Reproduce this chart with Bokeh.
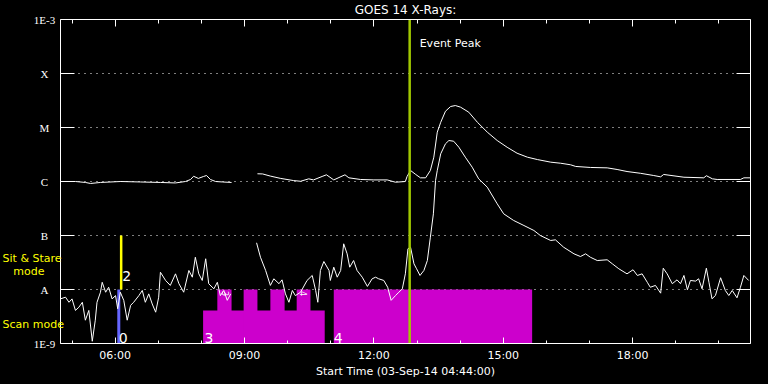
import math
from bokeh.plotting import figure
from bokeh.models import (Range1d, FixedTicker, LogAxis, LinearAxis, Label, LabelSet,
                          ColumnDataSource)
from bokeh.embed import file_html
from bokeh.resources import INLINE

# ---------------- data ----------------
start_h = 4 + 44 / 60          # 04:44
end_h = start_h + 16           # 20:44

# GOES long channel (1-8 A), two segments (data gap ~08:45-09:15)
long_t_1 = [4.73, 5.08, 5.31, 5.43, 5.66, 6.13, 6.59, 7.05, 7.40, 7.63, 7.75, 7.82,
            7.93, 8.05, 8.12, 8.21, 8.33, 8.49, 8.70]
long_f_1 = [1.00e-6, 1.00e-6, 9.6e-7, 9.2e-7, 9.6e-7, 1.00e-6, 9.8e-7, 9.6e-7, 9.4e-7,
            1.00e-6, 1.09e-6, 1.25e-6, 1.14e-6, 1.24e-6, 1.29e-6, 1.09e-6, 1.00e-6,
            9.8e-7, 9.6e-7]
long_t_2 = [9.30, 9.42, 9.60, 9.84, 10.14, 10.30, 10.49, 10.60, 10.80, 10.90, 11.07,
            11.33, 11.42, 11.69, 12.00, 12.31, 12.50, 12.73, 12.77, 12.85, 12.97, 13.08,
            13.20, 13.31, 13.39, 13.47, 13.55, 13.66, 13.78, 13.89, 14.01, 14.20, 14.40,
            14.63, 14.86, 15.09, 15.32, 15.56, 15.79, 16.10, 16.33, 16.56, 16.68, 17.02,
            17.41, 17.64, 17.87, 18.18, 18.49, 18.65, 18.72, 19.19, 19.65, 19.71, 19.85,
            19.96, 20.50, 20.58, 20.73]
long_f_2 = [1.39e-6, 1.38e-6, 1.26e-6, 1.14e-6, 1.04e-6, 1.01e-6, 1.12e-6, 1.07e-6,
            1.24e-6, 1.33e-6, 1.07e-6, 1.33e-6, 1.17e-6, 1.09e-6, 1.07e-6, 1.07e-6,
            9.7e-7, 1.00e-6, 1.24e-6, 1.60e-6, 1.35e-6, 1.17e-6, 1.17e-6, 1.60e-6,
            2.82e-6, 8.2e-6, 1.25e-5, 2.00e-5, 2.45e-5, 2.55e-5, 2.38e-5, 1.92e-5,
            1.25e-5, 8.2e-6, 5.74e-6, 4.31e-6, 3.34e-6, 2.82e-6, 2.55e-6, 2.28e-6,
            2.18e-6, 2.04e-6, 1.90e-6, 1.82e-6, 1.79e-6, 1.67e-6, 1.53e-6, 1.42e-6,
            1.29e-6, 1.22e-6, 1.35e-6, 1.20e-6, 1.17e-6, 1.28e-6, 1.12e-6, 1.09e-6,
            1.09e-6, 1.17e-6, 1.17e-6]

# GOES short channel (0.5-4 A)
short_t_1 = [4.73, 4.85, 4.93, 5.00, 5.08, 5.16, 5.24, 5.31, 5.39, 5.47, 5.54, 5.58,
             5.66, 5.70, 5.78, 5.85, 5.93, 6.01, 6.06, 6.12, 6.20, 6.28, 6.36, 6.43,
             6.55, 6.63, 6.70, 6.78, 6.86, 6.94, 7.01, 7.05, 7.17, 7.28, 7.40, 7.48,
             7.59, 7.71, 7.79, 7.86, 7.94, 8.02, 8.10, 8.17, 8.29, 8.37, 8.44, 8.52,
             8.60, 8.68]
short_f_1 = [6.7e-9, 7.2e-9, 5.8e-9, 6.7e-9, 4.1e-9, 4.7e-9, 5.8e-9, 2.7e-9, 4.1e-9,
             1.1e-9, 2.7e-9, 5.8e-9, 8.9e-9, 1.36e-8, 8.9e-9, 1.10e-8, 6.7e-9, 7.7e-9,
             4.4e-9, 8.9e-9, 6.3e-9, 2.7e-9, 5.1e-9, 5.8e-9, 7.7e-9, 9.6e-9, 5.8e-9,
             8.3e-9, 5.4e-9, 3.8e-9, 7.2e-9, 2.09e-8, 1.47e-8, 1.19e-8, 1.95e-8, 1.28e-8,
             8.9e-9, 2.25e-8, 1.69e-8, 3.96e-8, 1.95e-8, 1.47e-8, 3.71e-8, 1.28e-8,
             1.03e-8, 1.36e-8, 7.7e-9, 9.6e-9, 6.3e-9, 8.3e-9]
short_t_2 = [9.28, 9.37, 9.49, 9.60, 9.68, 9.80, 9.87, 9.95, 10.03, 10.11, 10.18,
             10.30, 10.45, 10.57, 10.65, 10.70, 10.76, 10.84, 10.96, 10.99, 11.07, 11.15,
             11.23, 11.30, 11.38, 11.44, 11.53, 11.61, 11.73, 11.85, 11.96, 12.04, 12.11,
             12.23, 12.32, 12.40, 12.50, 12.58, 12.66, 12.73, 12.79, 12.85, 12.93, 12.99,
             13.07, 13.16, 13.24, 13.31, 13.38, 13.43, 13.47, 13.55, 13.66, 13.74, 13.85,
             13.97, 14.12, 14.28, 14.43, 14.63, 14.86, 15.01, 15.24, 15.48, 15.71, 15.86,
             16.10, 16.21, 16.40, 16.64, 16.79, 16.91, 17.02, 17.18, 17.41, 17.53, 17.68,
             17.87, 18.01, 18.11, 18.22, 18.34, 18.41, 18.53, 18.65, 18.71, 18.80, 18.92,
             19.03, 19.11, 19.19, 19.27, 19.34, 19.46, 19.53, 19.61, 19.71, 19.77, 19.84,
             19.92, 20.04, 20.15, 20.23, 20.31, 20.42, 20.50, 20.58, 20.69]
short_f_2 = [7.33e-8, 3.96e-8, 2.25e-8, 1.19e-8, 1.58e-8, 1.28e-8, 1.51e-8, 8.3e-9,
             5.8e-9, 9.6e-9, 7.7e-9,
             8.9e-9, 1.47e-8, 1.82e-8, 9.6e-9, 5.8e-9, 2.25e-8, 3.30e-8, 2.25e-8, 1.47e-8,
             2.59e-8, 1.69e-8, 2.25e-8, 7.02e-8, 4.58e-8, 2.59e-8, 3.44e-8, 2.25e-8,
             1.69e-8, 1.14e-8, 1.58e-8, 1.69e-8, 1.58e-8, 1.47e-8, 1.10e-8, 6.3e-9,
             7.7e-9, 8.9e-9, 1.03e-8, 1.95e-8, 5.68e-8, 6.07e-8, 2.99e-8, 2.42e-8,
             1.82e-8, 2.25e-8, 3.44e-8, 9.31e-8, 2.52e-7, 1.04e-6, 1.60e-6, 3.26e-6,
             4.99e-6, 5.74e-6, 5.57e-6, 4.32e-6, 2.82e-6, 1.84e-6, 1.12e-6, 7.84e-7,
             3.86e-7, 2.52e-7, 1.90e-7, 1.53e-7, 1.24e-7, 1.00e-7, 8.08e-8, 8.32e-8,
             6.07e-8, 4.58e-8, 4.08e-8, 4.58e-8, 3.96e-8, 3.44e-8, 3.55e-8, 2.99e-8,
             2.42e-8, 1.95e-8, 2.32e-8, 1.82e-8, 1.95e-8, 1.36e-8, 1.10e-8, 1.19e-8,
             8.55e-9, 2.48e-8, 1.95e-8, 1.28e-8, 1.51e-8, 1.28e-8, 1.82e-8, 9.87e-9,
             1.47e-8, 1.43e-8, 1.58e-8, 1.03e-8, 2.48e-8, 1.36e-8, 6.73e-9, 7.74e-9,
             1.65e-8, 9.58e-9, 7.74e-9, 9.58e-9, 7.02e-9, 1.10e-8, 1.82e-8, 1.47e-8]

# instrument mode blocks (magenta)
mode_left = [8.04, 8.37, 8.98, 9.60, 10.21, 11.07]
mode_right = [10.86, 8.70, 9.30, 9.93, 10.53, 15.67]
mode_top = [4.1e-9, 1e-8, 1e-8, 1e-8, 1e-8, 1e-8]

event_peak_h = 12.83
stare_h = 6.14
scan_h = 6.085

class_ticks = [1e-9, 1e-8, 1e-7, 1e-6, 1e-5, 1e-4, 1e-3]
class_labels = ["1E-9", "A", "B", "C", "M", "X", "1E-3"]
hour_ticks = [6, 9, 12, 15, 18]
hour_labels = ["06:00", "09:00", "12:00", "15:00", "18:00"]
minor_hours = list(range(5, 21))

FONT = "DejaVu Sans"
FS = "11px"

# ---------------- layout: frame covers the whole canvas ----------------
W, H = 768, 384
BOX_L, BOX_R, BOX_T, BOX_B = 60, 750, 19, 343
px_per_h = (BOX_R - BOX_L) / (end_h - start_h)
px_per_dec = (BOX_B - BOX_T) / 6.0
x0 = start_h - BOX_L / px_per_h
x1 = end_h + (W - BOX_R) / px_per_h
y0 = 10 ** (-9 - (H - BOX_B) / px_per_dec)
y1 = 10 ** (-3 + BOX_T / px_per_dec)

p = figure(width=W, height=H, x_range=Range1d(x0, x1), y_range=Range1d(y0, y1),
           y_axis_type="log", output_backend="svg", toolbar_location=None,
           min_border=0, min_border_left=0, min_border_right=0, min_border_top=0,
           min_border_bottom=0, background_fill_color="black",
           border_fill_color="black", outline_line_color=None)
p.xgrid.visible = False
p.ygrid.visible = False


def style(ax, major_in, minor_in, labels=True):
    ax.axis_line_color = "white"
    ax.major_tick_line_color = "white"
    ax.minor_tick_line_color = "white"
    ax.major_tick_in = major_in
    ax.major_tick_out = 0
    ax.minor_tick_in = minor_in
    ax.minor_tick_out = 0
    ax.major_label_text_font = FONT
    ax.major_label_text_font_size = FS
    ax.major_label_text_color = "white" if labels else None


yax = p.yaxis[0]
yax.fixed_location = start_h
yax.bounds = (1e-9, 1e-3)
yax.ticker = FixedTicker(ticks=class_ticks, minor_ticks=[])
style(yax, 14, 0, labels=False)

rax = LogAxis(fixed_location=end_h, bounds=(1e-9, 1e-3),
              ticker=FixedTicker(ticks=class_ticks, minor_ticks=[]))
style(rax, 14, 0, labels=False)
p.add_layout(rax, "right")

xax = p.xaxis[0]
xax.fixed_location = 1e-9
xax.bounds = (start_h, end_h)
xax.ticker = FixedTicker(ticks=hour_ticks, minor_ticks=minor_hours)
xax.major_label_overrides = dict(zip(hour_ticks, hour_labels))
style(xax, 6, 3)
xax.major_label_standoff = 5
xax.axis_label = "Start Time (03-Sep-14 04:44:00)"
xax.axis_label_text_color = "white"
xax.axis_label_text_font = FONT
xax.axis_label_text_font_size = FS
xax.axis_label_text_font_style = "normal"
xax.axis_label_standoff = 0

tax = LinearAxis(fixed_location=1e-3, bounds=(start_h, end_h),
                 ticker=FixedTicker(ticks=hour_ticks, minor_ticks=minor_hours))
style(tax, 7, 4, labels=False)
p.add_layout(tax, "above")

# dotted class lines
p.segment(x0=[start_h] * 5, x1=[end_h] * 5, y0=class_ticks[1:-1], y1=class_ticks[1:-1],
          line_color="white", line_dash="1 5", line_width=1)

# class labels, centred left of the box
p.add_layout(LabelSet(x=start_h, y="y", text="t", x_offset=-16,
                      source=ColumnDataSource(dict(y=class_ticks, t=class_labels)),
                      text_color="white", text_font=FONT, text_font_size=FS,
                      text_align="center", text_baseline="middle"))

# mode blocks
p.quad(left=mode_left, right=mode_right, bottom=[1e-9] * len(mode_left), top=mode_top,
       fill_color="#CC00CC", line_color=None)

# mode change markers
p.segment(x0=[stare_h], y0=[1e-8], x1=[stare_h], y1=[1e-7], line_color="#FFFF00", line_width=2.5)
p.segment(x0=[scan_h], y0=[1e-9], x1=[scan_h], y1=[1e-8], line_color="#6666FF", line_width=3)

# light curves
for t, f in ((long_t_1, long_f_1), (long_t_2, long_f_2),
             (short_t_1, short_f_1), (short_t_2, short_f_2)):
    p.line(t, f, line_color="white", line_width=1)

# event peak line
p.segment(x0=[event_peak_h], y0=[1e-9], x1=[event_peak_h], y1=[1e-3],
          line_color="#A0C800", line_width=2.5)


def lab(x, y, text, size=FS, color="white", align="left", baseline="middle", xo=0, yo=0, angle=0):
    p.add_layout(Label(x=x, y=y, text=text, text_color=color, text_font=FONT,
                       text_font_size=size, text_align=align, text_baseline=baseline,
                       x_offset=xo, y_offset=yo, angle=angle))


lab((start_h + end_h) / 2, 1.5e-3, "GOES 14 X-Rays:", size="12px", align="center")
lab(event_peak_h, 3.6e-4, "Event Peak", xo=10)
lab(3.39, 3.75e-8, "Sit & Stare", color="#FFFF00")
lab(3.64, 2.15e-8, "mode", color="#FFFF00")
lab(3.39, 2.25e-9, "Scan mode", color="#FFFF00")

# mode numbers
lab(scan_h, 1.24e-9, "0", size="14px", baseline="alphabetic", xo=0)
lab(stare_h, 1.75e-8, "2", size="14px", baseline="alphabetic", xo=1)
lab(mode_left[0], 1.24e-9, "3", size="14px", baseline="alphabetic", xo=1.5)
lab(mode_left[5], 1.24e-9, "4", size="14px", baseline="alphabetic", xo=0)
lab(mode_left[1], 1e-8, "3", size="8px", align="center", baseline="middle", xo=8, yo=-4, angle=-1.5708)
lab(mode_left[4], 1e-8, "4", size="8px", align="center", baseline="middle", xo=7, yo=-4, angle=-1.5708)

html = file_html(p, INLINE)
html = html.replace("<head>", "<head><style>html,body{background:#000;}</style>", 1)
open("out.html", "w").write(html)
